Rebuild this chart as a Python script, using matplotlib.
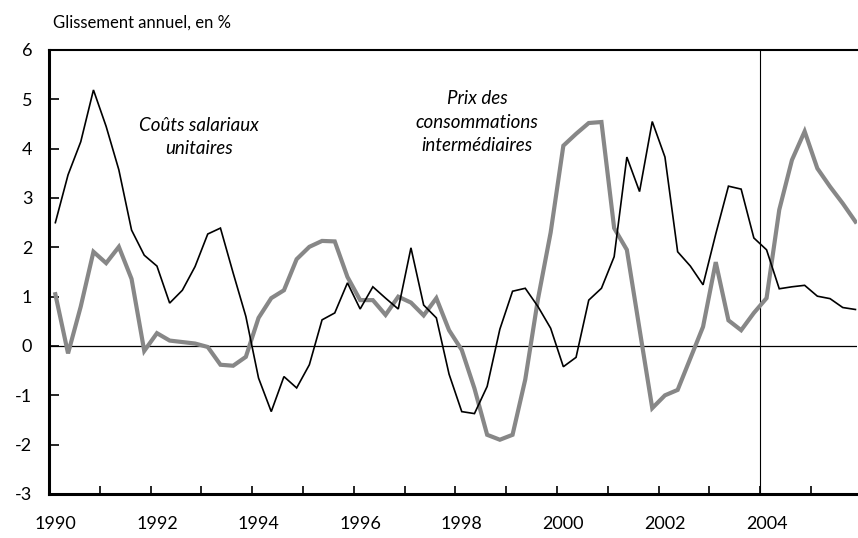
import numpy as np
from matplotlib import pyplot as plt

plt.rcParams['font.family'] = ['Lato', 'DejaVu Sans']
plt.rcParams['axes.unicode_minus'] = False

START_YEAR = 1990

# glissement annuel, trimestriel 1990T1 - 2005T4
couts_salariaux = [
    2.5, 3.47, 4.14, 5.19,
    4.45, 3.57, 2.35, 1.84,
    1.62, 0.87, 1.13, 1.61,
    2.27, 2.39, 1.48, 0.6,
    -0.65, -1.33, -0.62, -0.85,
    -0.38, 0.53, 0.67, 1.28,
    0.75, 1.2, 0.97, 0.75,
    1.99, 0.83, 0.57, -0.57,
    -1.33, -1.37, -0.82, 0.34,
    1.11, 1.17, 0.8, 0.36,
    -0.42, -0.23, 0.93, 1.17,
    1.81, 3.83, 3.13, 4.55,
    3.83, 1.91, 1.62, 1.24,
    2.27, 3.24, 3.18, 2.19,
    1.95, 1.16, 1.2, 1.23,
    1.01, 0.96, 0.78, 0.74,
]
prix_consommations = [
    1.05, -0.15, 0.8, 1.91,
    1.68, 2.01, 1.36, -0.1,
    0.26, 0.11, 0.08, 0.05,
    -0.02, -0.38, -0.4, -0.22,
    0.57, 0.97, 1.13, 1.76,
    2.01, 2.13, 2.12, 1.4,
    0.93, 0.93, 0.63, 1.0,
    0.88, 0.62, 0.97, 0.32,
    -0.08, -0.86, -1.8, -1.9,
    -1.8, -0.68, 0.95, 2.3,
    4.06, 4.3, 4.52, 4.54,
    2.39, 1.95, 0.34, -1.26,
    -1.0, -0.89, -0.25, 0.39,
    1.7, 0.52, 0.32, 0.67,
    0.97, 2.76, 3.77, 4.35,
    3.6, 3.23, 2.89, 2.52,
]
year_labels = [1990, 1992, 1994, 1996, 1998, 2000, 2002, 2004]
y_ticks = [-3, -2, -1, 0, 1, 2, 3, 4, 5, 6]

n = len(couts_salariaux)
t = START_YEAR + (np.arange(n) + 0.5) / 4

fig = plt.figure(figsize=(8.58, 5.38), dpi=100)
ax = fig.add_axes([49 / 858, 44 / 538, 808 / 858, 444 / 538])

ax.plot(t, prix_consommations, color='#878787', lw=3.0, solid_joinstyle='miter', zorder=3)
ax.plot(t, couts_salariaux, color='black', lw=1.2, solid_joinstyle='miter', zorder=4)

ax.axhline(0, color='black', lw=0.9, zorder=2)
ax.axvline(2004, color='black', lw=0.8, zorder=2)

ax.set_xlim(START_YEAR, START_YEAR + 808 / 50.8)
ax.set_ylim(-3, 6)

ax.set_yticks(y_ticks)
ax.set_yticklabels([str(v) for v in y_ticks], fontsize=13)
ax.tick_params(axis='y', direction='in', length=7, width=1.2, pad=12)

# year boundaries as inward minor ticks, labels centred on first quarter
ax.set_xticks(np.arange(1991, 2006), minor=True)
ax.set_xticks([y + 0.125 for y in year_labels])
ax.set_xticklabels([str(y) for y in year_labels], fontsize=13)
ax.tick_params(axis='x', which='major', length=0, pad=16)
ax.tick_params(axis='x', which='minor', direction='in', length=6, width=1.2)

ax.spines['left'].set_linewidth(2.2)
ax.spines['bottom'].set_linewidth(2.2)
ax.spines['top'].set_linewidth(1.5)
ax.spines['right'].set_visible(False)

fig.text(53 / 858, 1 - 23 / 538, 'Glissement annuel, en %', fontsize=12,
         ha='left', va='center')

ax.text(1992.96, 4.23, 'Coûts salariaux\nunitaires', fontsize=13.5, style='italic',
        ha='center', va='center', linespacing=1.45)
ax.text(1998.43, 4.54, 'Prix des\nconsommations\nintermédiaires', fontsize=13.5,
        style='italic', ha='center', va='center', linespacing=1.45)

fig.savefig('out.png', dpi=100)
